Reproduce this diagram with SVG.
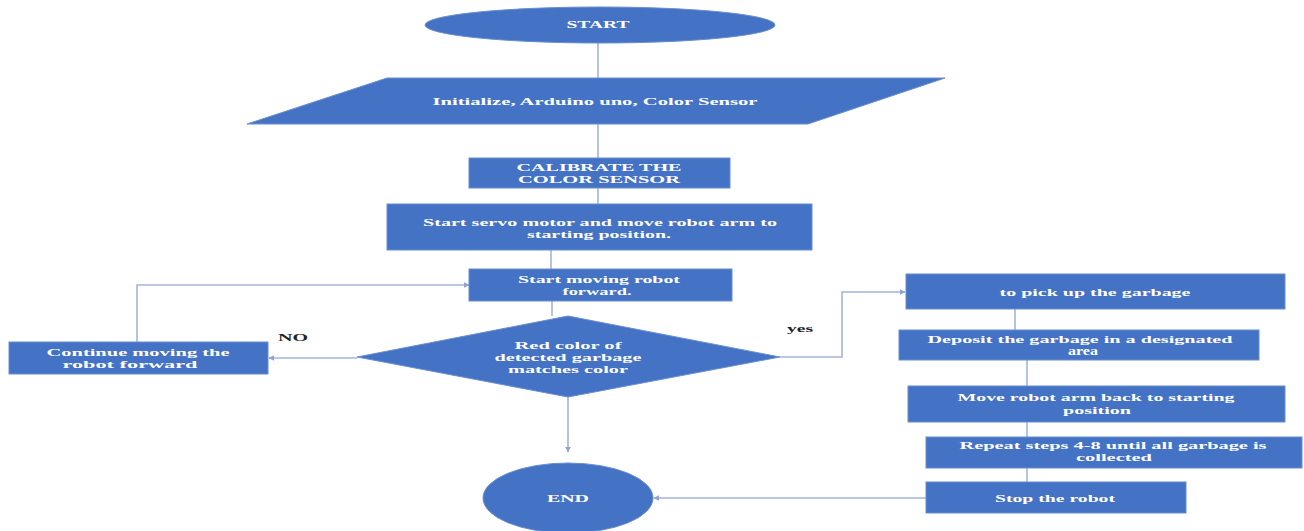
<svg xmlns="http://www.w3.org/2000/svg" width="1304" height="531" viewBox="0 0 1304 531">
  <style>
    .node { fill: #4472C4; stroke: #6A8ED0; stroke-width: 1; }
    .t { fill: #FFFFFF; font-family: "Liberation Serif", "DejaVu Serif", serif; font-weight: bold; font-size: 11px; text-anchor: middle; }
    .lbl { fill: #222222; font-family: "Liberation Serif", "DejaVu Serif", serif; font-weight: bold; font-size: 11px; text-anchor: middle; }
    .conn { fill: none; stroke: #A3B5DC; stroke-width: 1.6; }
    .arr { marker-end: url(#ah); }
  </style>
  <defs>
    <marker id="ah" viewBox="0 0 10 10" refX="9" refY="5" markerWidth="6" markerHeight="6" markerUnits="userSpaceOnUse" orient="auto">
      <path d="M0 0 L10 5 L0 10 z" fill="#8FA5D6"/>
    </marker>
  </defs>
  <rect width="1304" height="531" fill="#FFFFFF"/>

  <g id="connectors">
    <path class="conn" d="M598 43 V78"/>
    <path class="conn" d="M598 124 V158"/>
    <path class="conn" d="M598 188 V204"/>
    <path class="conn" d="M551 250 V269"/>
    <path class="conn" d="M552 301 V316"/>
    <path class="conn arr" d="M568 397 V452"/>
    <path class="conn arr" d="M357 358 H269"/>
    <path class="conn arr" d="M137 342 V285 H469"/>
    <path class="conn arr" d="M780 357 H842 V292 H905"/>
    <path class="conn" d="M1015 309 V330"/>
    <path class="conn" d="M1027 360 V386"/>
    <path class="conn" d="M1027 422 V437"/>
    <path class="conn" d="M1027 468 V482"/>
    <path class="conn arr" d="M926 498 H654"/>
  </g>

  <g id="start">
    <ellipse class="node" cx="600" cy="25" rx="175" ry="18"/>
    <text class="t" x="598" y="28" textLength="63" lengthAdjust="spacingAndGlyphs">START</text>
  </g>

  <g id="init">
    <polygon class="node" points="387,78 945,78 808,124 247,124"/>
    <text class="t" x="595" y="105" textLength="325" lengthAdjust="spacingAndGlyphs">Initialize, Arduino uno, Color  Sensor</text>
  </g>

  <g id="calibrate">
    <rect class="node" x="469" y="158" width="261" height="30"/>
    <text class="t" x="599" y="171" textLength="165" lengthAdjust="spacingAndGlyphs">CALIBRATE THE</text>
    <text class="t" x="599" y="183" textLength="162" lengthAdjust="spacingAndGlyphs">COLOR SENSOR</text>
  </g>

  <g id="servo">
    <rect class="node" x="387" y="204" width="425" height="46"/>
    <text class="t" x="600" y="226" textLength="354" lengthAdjust="spacingAndGlyphs">Start servo motor and move robot arm to</text>
    <text class="t" x="599" y="238" textLength="144" lengthAdjust="spacingAndGlyphs">starting position.</text>
  </g>

  <g id="moving">
    <rect class="node" x="469" y="269" width="263" height="32"/>
    <text class="t" x="599" y="283" textLength="162" lengthAdjust="spacingAndGlyphs">Start moving robot</text>
    <text class="t" x="597" y="295" textLength="69" lengthAdjust="spacingAndGlyphs">forward.</text>
  </g>

  <g id="decision">
    <polygon class="node" points="568,316 780,357 568,397 357,357"/>
    <text class="t" x="568" y="349" textLength="107" lengthAdjust="spacingAndGlyphs">Red color of</text>
    <text class="t" x="568" y="361" textLength="147" lengthAdjust="spacingAndGlyphs">detected garbage</text>
    <text class="t" x="568" y="373" textLength="120" lengthAdjust="spacingAndGlyphs">matches color</text>
  </g>

  <g id="continue">
    <rect class="node" x="9" y="342" width="259" height="32"/>
    <text class="t" x="138" y="356" textLength="183" lengthAdjust="spacingAndGlyphs">Continue moving the</text>
    <text class="t" x="130" y="368" textLength="135" lengthAdjust="spacingAndGlyphs">robot forward</text>
  </g>

  <g id="labels">
    <text class="lbl" x="293" y="341" textLength="30" lengthAdjust="spacingAndGlyphs">NO</text>
    <text class="lbl" x="800" y="332" textLength="26" lengthAdjust="spacingAndGlyphs">yes</text>
  </g>

  <g id="pickup">
    <rect class="node" x="906" y="274" width="379" height="35"/>
    <text class="t" x="1095" y="296" textLength="191" lengthAdjust="spacingAndGlyphs">to pick up the garbage</text>
  </g>

  <g id="deposit">
    <rect class="node" x="899" y="330" width="360" height="30"/>
    <text class="t" x="1080" y="343" textLength="305" lengthAdjust="spacingAndGlyphs">Deposit the garbage in a designated</text>
    <text class="t" x="1083" y="355" textLength="30" lengthAdjust="spacingAndGlyphs" style="font-size:12px">area</text>
  </g>

  <g id="armback">
    <rect class="node" x="908" y="386" width="377" height="36"/>
    <text class="t" x="1096" y="401" textLength="277" lengthAdjust="spacingAndGlyphs">Move robot arm back to starting</text>
    <text class="t" x="1097" y="414" textLength="68" lengthAdjust="spacingAndGlyphs">position</text>
  </g>

  <g id="repeat">
    <rect class="node" x="926" y="437" width="376" height="31"/>
    <text class="t" x="1113" y="449" textLength="307" lengthAdjust="spacingAndGlyphs">Repeat steps 4-8 until all garbage is</text>
    <text class="t" x="1114" y="461" textLength="76" lengthAdjust="spacingAndGlyphs">collected</text>
  </g>

  <g id="stop">
    <rect class="node" x="926" y="482" width="260" height="31"/>
    <text class="t" x="1055" y="502" textLength="120" lengthAdjust="spacingAndGlyphs">Stop the robot</text>
  </g>

  <g id="end">
    <ellipse class="node" cx="568" cy="498" rx="85" ry="35"/>
    <text class="t" x="568" y="502" textLength="42" lengthAdjust="spacingAndGlyphs">END</text>
  </g>
</svg>
